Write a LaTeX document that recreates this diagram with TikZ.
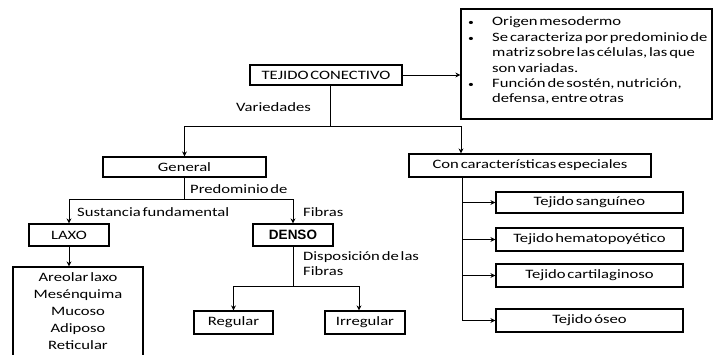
\documentclass[tikz,border=0pt]{standalone}
\usepackage{fontspec}
\setmainfont{Carlito}[FakeStretch=1.3, WordSpace=0.5]
\newfontfamily\arialf{Liberation Sans}
\usetikzlibrary{arrows.meta}
\begin{document}
\begin{tikzpicture}[x=1pt,y=-1pt,
  font=\fontsize{12.8}{15.4}\selectfont,
  box/.style={draw, line width=1.2pt, inner sep=0pt},
  arr/.style={-{Stealth[length=5pt,width=5pt]}, line width=0.9pt},
  ln/.style={line width=0.9pt},
  lbl/.style={inner sep=0pt, anchor=west}]
\useasboundingbox (0,0) rectangle (714,354);
\clip (0,0) rectangle (714,354);

% top
\node[box, minimum width=152pt, minimum height=20pt] (tejido) at (326,75) {TEJIDO CONECTIVO};
\node[box, minimum width=251pt, minimum height=110pt] (info) at (586.5,64) {};
\node[anchor=north west, inner sep=0pt] (infotxt) at (466,15) {%
  \begin{tabular}{@{}p{26pt}@{}l@{}}
  \hspace{2pt}{\small•} & Origen mesodermo\\
  \hspace{2pt}{\small•} & Se caracteriza por predominio de\\
   & matriz sobre las células, las que\\
   & son variadas.\\
  \hspace{2pt}{\small•} & Función de sostén, nutrición,\\
   & defensa, entre otras
  \end{tabular}};
\draw[arr] (tejido.east) -- (tejido.east -| info.west);

% level 2
\node[box, minimum width=163pt, minimum height=20pt] (general) at (184.5,167) {General};
\node[box, minimum width=242pt, minimum height=23pt] (con) at (530,165.5) {Con características especiales};
\coordinate (j1) at (330,126);
\draw[ln] (tejido.south -| j1) -- (j1);
\draw[arr] (j1) -| (general.north);
\draw[arr] (j1) -| ([xshift=-69pt]con.north);
\node[lbl] (variedades) at (236,107) {Variedades};

% general branch
\node[box, minimum width=80pt, minimum height=22pt] (laxo) at (69,235) {LAXO};
\node[box, minimum width=80pt, minimum height=22pt] (denso) at (293,235) {\arialf\bfseries\fontsize{13.5}{15}\selectfont DENSO};
\draw[ln] (general.south) -- ++(0,22) coordinate (j2);
\draw[arr] (j2) -| (laxo.north);
\draw[arr] (j2) -| (denso.north);
\node[lbl] (predominio) at (190,189) {Predominio de};
\node[lbl] (sustancia) at (77,212) {Sustancia fundamental};
\node[lbl] (fibras) at (303,212) {Fibras};

% laxo list
\node[box, minimum width=130pt, minimum height=94pt] (lista) at (78,314) {};
\node[anchor=north, inner sep=0pt, align=center, font=\fontsize{12.8}{17}\selectfont] (listatxt) at (78,272)
  {Areolar laxo\\Mesénquima\\Mucoso\\Adiposo\\Reticular};
\draw[arr] (laxo.south) -- (laxo.south |- lista.north);

% denso branch
\node[box, minimum width=79pt, minimum height=23pt] (regular) at (233.5,322.5) {Regular};
\node[box, minimum width=80pt, minimum height=23pt] (irregular) at (365,322.5) {Irregular};
\draw[ln] (denso.south) -- ++(0,40) coordinate (j3);
\draw[arr] (j3) -| (regular.north);
\draw[arr] (j3) -| ([xshift=-6pt]irregular.north);
\node[anchor=north west, inner sep=0pt, align=left, font=\fontsize{12.8}{15}\selectfont] (disp) at (303,251) {Disposición de las\\Fibras};

% special branch
\node[box, minimum width=187pt, minimum height=21pt] (sang) at (589.5,202.5) {Tejido sanguíneo};
\node[box, minimum width=187pt, minimum height=23pt] (hema) at (589.5,239.5) {Tejido hematopoyético};
\node[box, minimum width=187pt, minimum height=23pt] (cart) at (589.5,275.5) {Tejido cartilaginoso};
\node[box, minimum width=187pt, minimum height=23pt] (oseo) at (589.5,320.5) {Tejido óseo};
\coordinate (s4) at ([xshift=-68pt]con.south);
\draw[ln] (s4) -- (s4 |- oseo.west);
\draw[arr] (s4 |- sang.west) -- (sang.west);
\draw[arr] (s4 |- hema.west) -- (hema.west);
\draw[arr] (s4 |- cart.west) -- (cart.west);
\draw[arr] (s4 |- oseo.west) -- (oseo.west);
\end{tikzpicture}
\end{document}
